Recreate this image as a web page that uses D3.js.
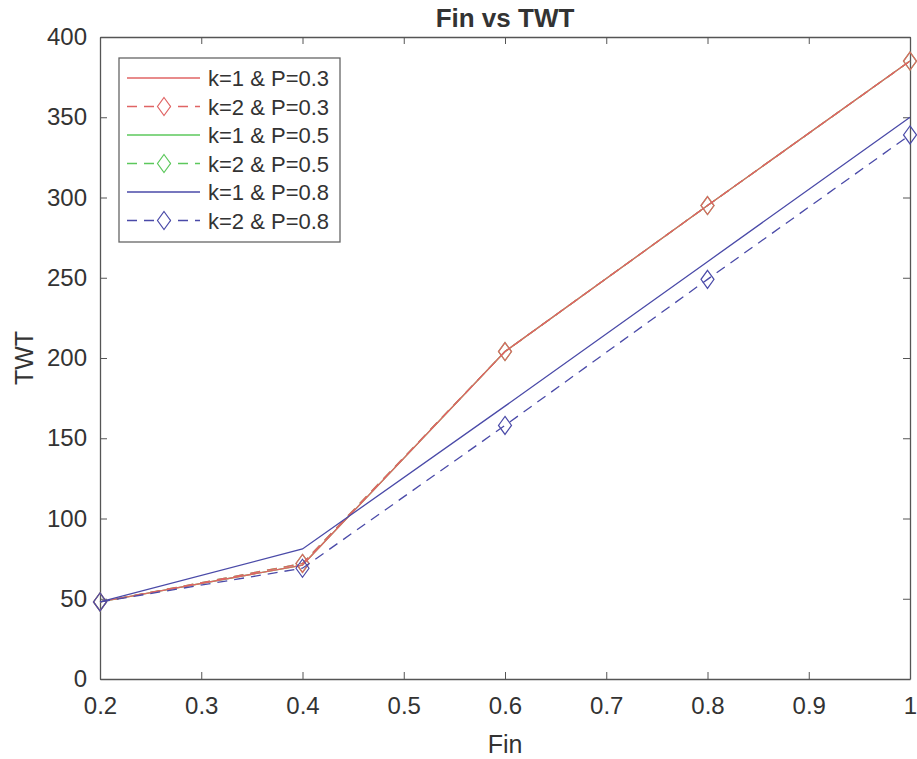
<!DOCTYPE html>
<html>
<head>
<meta charset="utf-8">
<script src="https://cdn.jsdelivr.net/npm/d3@7"></script>
<style>
  body { margin: 0; background: #fff; }
  text { font-family: "Liberation Sans", Arial, sans-serif; fill: #333; }
</style>
</head>
<body>
<svg id="chart" width="917" height="759"></svg>
<script>
var fin = [0.2, 0.4, 0.6, 0.8, 1.0];

// TWT values
var k1p03 = [48, 71, 204, 295, 385];
var k2p03 = [48, 72, 204, 295, 385];
var k1p05 = [48, 71, 204, 295, 385];
var k2p05 = [48, 72, 204, 295, 385];
var k1p08 = [48, 81, 170, 260, 350];
var k2p08 = [48, 69, 158, 249, 339];

var xTicks = [0.2, 0.3, 0.4, 0.5, 0.6, 0.7, 0.8, 0.9, 1];
var yTicks = [0, 50, 100, 150, 200, 250, 300, 350, 400];

var series = [
    {name: "k=1 & P=0.3", values: k1p03, color: "#e06464", dashed: false, marker: false},
    {name: "k=2 & P=0.3", values: k2p03, color: "#e06464", dashed: true, marker: true},
    {name: "k=1 & P=0.5", values: k1p05, color: "#5cc85c", dashed: false, marker: false},
    {name: "k=2 & P=0.5", values: k2p05, color: "#5cc85c", dashed: true, marker: true},
    {name: "k=1 & P=0.8", values: k1p08, color: "#4a4aa8", dashed: false, marker: false},
    {name: "k=2 & P=0.8", values: k2p08, color: "#4a4aa8", dashed: true, marker: true}
];

var plotLeft = 100, plotRight = 910, plotTop = 37, plotBottom = 679;
var svg = d3.select("#chart");

var x = d3.scaleLinear().domain([0.2, 1]).range([plotLeft, plotRight]);
var y = d3.scaleLinear().domain([0, 400]).range([plotBottom, plotTop]);

// axes, MATLAB style: ticks inside, box on
var axisColor = "#555";
function styleAxis(g) {
    g.selectAll("path").attr("stroke", axisColor).attr("stroke-width", 1.3);
    g.selectAll("line").attr("stroke", axisColor);
    g.selectAll("text").style("font-size", "24px").attr("fill", "#3a3a3a");
}

svg.append("g")
    .attr("transform", "translate(0," + plotBottom + ")")
    .call(d3.axisBottom(x).tickValues(xTicks).tickSizeInner(-7).tickSizeOuter(0)
        .tickPadding(18).tickFormat(d3.format("")))
    .call(styleAxis);

svg.append("g")
    .attr("transform", "translate(0," + plotTop + ")")
    .call(d3.axisTop(x).tickValues(xTicks).tickSizeInner(-7).tickSizeOuter(0).tickFormat(""))
    .call(styleAxis);

svg.append("g")
    .attr("transform", "translate(" + plotLeft + ",0)")
    .call(d3.axisLeft(y).tickValues(yTicks).tickSizeInner(-7).tickSizeOuter(0).tickPadding(13))
    .call(styleAxis);

svg.append("g")
    .attr("transform", "translate(" + plotRight + ",0)")
    .call(d3.axisRight(y).tickValues(yTicks).tickSizeInner(-7).tickSizeOuter(0).tickFormat(""))
    .call(styleAxis);

// lines, green drawn first so the red ones sit on top as in the picture
var line = d3.line()
    .x(function (d, i) { return x(fin[i]); })
    .y(function (d) { return y(d); });

var drawOrder = [2, 3, 0, 1, 4, 5];
var diamond = "M0,-9L6.5,0L0,9L-6.5,0Z";

drawOrder.forEach(function (idx) {
    var s = series[idx];
    var g = svg.append("g");
    g.append("path")
        .attr("d", line(s.values))
        .attr("fill", "none")
        .attr("stroke", s.color)
        .attr("stroke-width", 1.3)
        .attr("stroke-dasharray", s.dashed ? "10,7" : null);
    if (s.marker) {
        g.selectAll("path.mk")
            .data(s.values)
            .enter()
            .append("path")
            .attr("class", "mk")
            .attr("d", diamond)
            .attr("transform", function (d, i) { return "translate(" + x(fin[i]) + "," + y(d) + ")"; })
            .attr("fill", "none")
            .attr("stroke", s.color)
            .attr("stroke-width", 1.2);
    }
});

// title and labels
svg.append("text")
    .attr("x", (plotLeft + plotRight) / 2).attr("y", 27)
    .attr("text-anchor", "middle")
    .style("font-size", "26px").style("font-weight", "bold")
    .attr("fill", "#222")
    .text("Fin vs TWT");

svg.append("text")
    .attr("x", (plotLeft + plotRight) / 2).attr("y", 753)
    .attr("text-anchor", "middle")
    .style("font-size", "25px")
    .text("Fin");

svg.append("text")
    .attr("transform", "translate(33," + 358 + ") rotate(-90)")
    .attr("text-anchor", "middle")
    .style("font-size", "25px")
    .text("TWT");

// legend
var legend = svg.append("g");
legend.append("rect")
    .attr("x", 119).attr("y", 58)
    .attr("width", 221).attr("height", 184)
    .attr("fill", "#fff")
    .attr("stroke", "#666").attr("stroke-width", 1.3);

var rows = legend.selectAll("g.row")
    .data(series)
    .enter()
    .append("g")
    .attr("class", "row")
    .attr("transform", function (d, i) { return "translate(0," + (78 + i * 28.5) + ")"; });

rows.append("line")
    .attr("x1", 127).attr("x2", 200)
    .attr("y1", 0).attr("y2", 0)
    .attr("stroke", function (d) { return d.color; })
    .attr("stroke-width", 1.3)
    .attr("stroke-dasharray", function (d) { return d.dashed ? "10,7" : null; });

rows.filter(function (d) { return d.marker; })
    .append("path")
    .attr("d", diamond)
    .attr("transform", "translate(164,0)")
    .attr("fill", "#fff")
    .attr("stroke", function (d) { return d.color; })
    .attr("stroke-width", 1.2);

rows.append("text")
    .attr("x", 208).attr("y", 8)
    .style("font-size", "22px")
    .attr("fill", "#222")
    .text(function (d) { return d.name; });
</script>
</body>
</html>
